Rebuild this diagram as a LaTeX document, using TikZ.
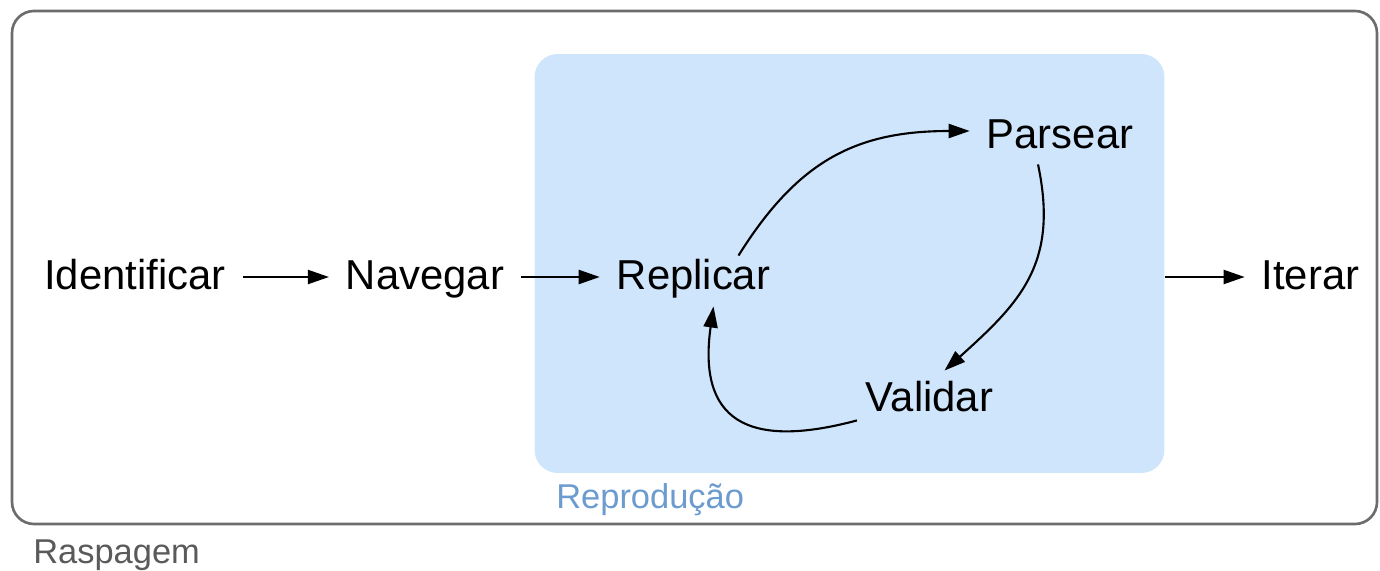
\documentclass[tikz,border=0pt]{standalone}
\usepackage{fontspec}
\setmainfont{Liberation Sans}
\usetikzlibrary{arrows.meta}
\definecolor{clusterblue}{RGB}{207,229,252}
\definecolor{clusterlabel}{RGB}{108,155,207}
\definecolor{framegray}{RGB}{108,108,108}
\definecolor{labelgray}{RGB}{90,90,90}
\begin{document}
\begin{tikzpicture}[x=0.02cm,y=0.02cm,
  task/.style={inner xsep=9.5pt,inner ysep=3pt,text height=16pt,text depth=2pt,font=\fontsize{23.8}{28}\selectfont},
  flow/.style={line width=1.2pt,-{Triangle[length=12pt,width=8pt]}},
  caption/.style={anchor=base west,inner sep=0pt,font=\fontsize{19.6}{23}\selectfont}]
\useasboundingbox (0,0) rectangle (1380,-571);
\draw[framegray,line width=1.5pt,rounded corners=0.44cm] (12,-11) rectangle (1377,-524);
\node[fill=clusterblue,rounded corners=0.46cm,minimum width=12.6cm,minimum height=8.38cm,inner sep=0pt] (repro) at (849.5,-263.5) {};
\node[caption,text=clusterlabel] (reprolabel) at (556,-508) {Reprodução};
\node[caption,text=labelgray] (rasplabel) at (33,-563) {Raspagem};
\node[task] (ide) at (135,-277) {Identificar};
\node[task] (nav) at (425,-277) {Navegar};
\node[task] (rep) at (693.5,-277) {Replicar};
\node[task] (par) at (1060,-136) {Parsear};
\node[task] (val) at (929.5,-399) {Validar};
\node[task] (ite) at (1310.5,-277) {Iterar};
\draw[flow] (ide) -- (nav);
\draw[flow] (nav) -- (rep);
\draw[flow] (repro.east |- ite.west) -- (ite);
\draw[flow] ([xshift=0.9cm]rep.north) to[out=58,in=180,looseness=1.1] ([yshift=0.1cm]par.west);
\draw[flow] ([xshift=-0.44cm,yshift=-0.14cm]par.south) to[out=-78,in=42,looseness=1.15] ([xshift=0.3cm,yshift=0.14cm]val.north);
\draw[flow] ([xshift=0.16cm]val.south west) to[out=195,in=-98,looseness=1.6] ([xshift=0.4cm,yshift=-0.16cm]rep.south);
\end{tikzpicture}
\end{document}
